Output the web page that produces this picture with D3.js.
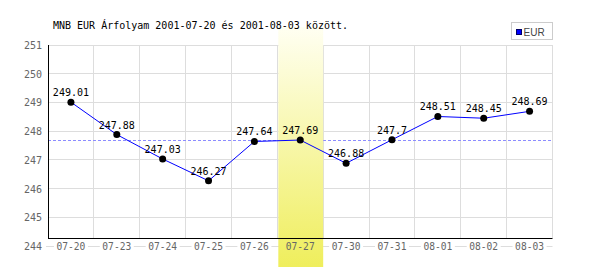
<!DOCTYPE html>
<html>
<head>
<meta charset="utf-8">
<script src="https://cdn.jsdelivr.net/npm/d3@7"></script>
<style>
  body { margin:0; background:#fff; }
  svg { display:block; }
</style>
</head>
<body>
<div id="chart"></div>
<script>
// chart data
const dates = ["07-20","07-23","07-24","07-25","07-26","07-27","07-30","07-31","08-01","08-02","08-03"]
const rates = [249.01, 247.88, 247.03, 246.27, 247.64, 247.69, 246.88, 247.7, 248.51, 248.45, 248.69]
const yTicks = [244, 245, 246, 247, 248, 249, 250, 251]
const avgRate = 247.69
const highlightDate = "07-27"
const seriesName = "EUR"
const title = "MNB EUR Árfolyam 2001-07-20 és 2001-08-03 között."

let width = 600, height = 270
let plotLeft = 48, plotRight = 552.5, plotTop = 45, axisY = 238

const mono = "'DejaVu Sans Mono', monospace"

const svg = d3.select("#chart")
    .append("svg")
    .attr("width", width)
    .attr("height", height)

const defs = svg.append("defs")
const grad = defs.append("linearGradient")
    .attr("id", "hl")
    .attr("x1", 0).attr("y1", 0).attr("x2", 0).attr("y2", 1)
grad.append("stop").attr("offset", "0%").attr("stop-color", "#fffff2")
grad.append("stop").attr("offset", "100%").attr("stop-color", "#efee5c")

let x = d3.scaleBand().domain(dates).range([plotLeft, plotRight])
let y = d3.scaleLinear().domain([244, 251]).range([246, plotTop])

const px = v => Math.floor(v) + 0.5
const cx = d => x(d) + x.bandwidth() / 2

// ---- grid ----
svg.selectAll(".hgrid")
    .data(yTicks.filter(d => d > 244))
    .enter()
    .append("line")
        .attr("x1", plotLeft).attr("x2", plotRight)
        .attr("y1", d => px(y(d))).attr("y2", d => px(y(d)))
        .attr("stroke", "#dddddd")

svg.append("line")
    .attr("x1", plotLeft - 2).attr("x2", plotRight)
    .attr("y1", px(y(244))).attr("y2", px(y(244)))
    .attr("stroke", "#dddddd")

svg.selectAll(".vgrid")
    .data(dates)
    .enter()
    .append("line")
        .attr("x1", d => px(x(d) + x.bandwidth())).attr("x2", d => px(x(d) + x.bandwidth()))
        .attr("y1", plotTop).attr("y2", axisY)
        .attr("stroke", "#dddddd")

// white boxes behind the x labels
svg.selectAll(".xbg")
    .data(dates)
    .enter()
    .append("rect")
        .attr("x", d => cx(d) - 17)
        .attr("y", y(244) - 6)
        .attr("width", 34)
        .attr("height", 12)
        .attr("fill", "#fff")

// average line
svg.append("line")
    .attr("x1", plotLeft).attr("x2", plotRight)
    .attr("y1", px(y(avgRate))).attr("y2", px(y(avgRate)))
    .attr("stroke", "#8c8cff")
    .attr("stroke-dasharray", "3,2")

// highlighted day
svg.append("rect")
    .attr("x", x(highlightDate) + 1)
    .attr("y", 27)
    .attr("width", x.bandwidth() - 1)
    .attr("height", 240)
    .attr("fill", "url(#hl)")

// axes
svg.append("line")
    .attr("x1", px(plotLeft)).attr("x2", px(plotLeft))
    .attr("y1", plotTop).attr("y2", axisY + 0.5)
    .attr("stroke", "#000")
svg.append("line")
    .attr("x1", plotLeft).attr("x2", plotRight)
    .attr("y1", axisY + 0.5).attr("y2", axisY + 0.5)
    .attr("stroke", "#000")

// ---- series ----
const line = d3.line()
    .x((d, i) => cx(dates[i]))
    .y(d => y(d))

svg.append("path")
    .datum(rates)
    .attr("d", line)
    .attr("fill", "none")
    .attr("stroke", "#0000ff")
    .attr("stroke-width", 1)

svg.selectAll(".pt")
    .data(rates)
    .enter()
    .append("circle")
        .attr("cx", (d, i) => cx(dates[i]))
        .attr("cy", d => y(d))
        .attr("r", 3.5)
        .attr("fill", "#000")

svg.selectAll(".val")
    .data(rates)
    .enter()
    .append("text")
        .attr("x", (d, i) => cx(dates[i]))
        .attr("y", d => y(d) - 6)
        .attr("text-anchor", "middle")
        .style("font-family", mono)
        .style("font-size", "10px")
        .style("fill", "#000")
        .text(d => String(d))

// ---- tick labels ----
svg.selectAll(".ylab")
    .data(yTicks)
    .enter()
    .append("text")
        .attr("x", 42)
        .attr("y", d => y(d) + 4)
        .attr("text-anchor", "end")
        .style("font-family", mono)
        .style("font-size", "10px")
        .style("fill", "#666")
        .text(d => d)

svg.selectAll(".xlab")
    .data(dates)
    .enter()
    .append("text")
        .attr("x", d => cx(d))
        .attr("y", y(244) + 4)
        .attr("text-anchor", "middle")
        .style("font-family", mono)
        .style("font-size", "9.6px")
        .style("fill", "#666")
        .text(d => d)

// title
svg.append("text")
    .attr("x", 53)
    .attr("y", 28.5)
    .style("font-family", mono)
    .style("font-size", "10px")
    .style("fill", "#000")
    .text(title)

// legend
const legend = svg.append("g")
legend.append("rect")
    .attr("x", 511.5).attr("y", 22.5)
    .attr("width", 41).attr("height", 17)
    .attr("fill", "#fff")
    .attr("stroke", "#cccccc")
legend.append("rect")
    .attr("x", 516.5).attr("y", 29.5)
    .attr("width", 5).attr("height", 5)
    .attr("fill", "#0000ff")
    .attr("stroke", "#000066")
legend.append("text")
    .attr("x", 523.5).attr("y", 35.5)
    .style("font-family", "'Liberation Sans Narrow', 'Liberation Sans', sans-serif")
    .style("font-size", "10px")
    .style("fill", "#444")
    .text(seriesName)
</script>
</body>
</html>
